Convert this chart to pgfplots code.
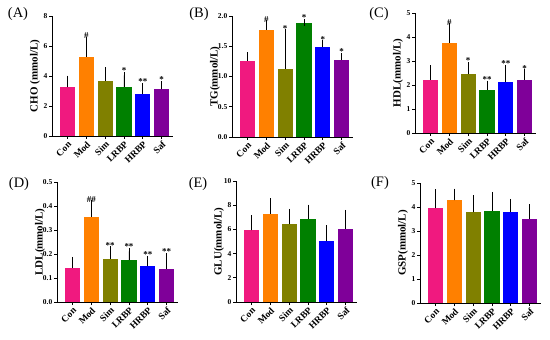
\documentclass[border=0pt]{standalone}
\usepackage{pgfplots}
\pgfplotsset{compat=1.18}
\usepackage{fontspec}
\setmainfont{Liberation Serif}
\definecolor{cCon}{HTML}{F0197F}
\definecolor{cMod}{HTML}{FF8000}
\definecolor{cSim}{HTML}{808000}
\definecolor{cLR}{HTML}{008000}
\definecolor{cHR}{HTML}{0000FF}
\definecolor{cSaf}{HTML}{7F0099}
\pgfplotsset{
  panel/.style={
    scale only axis, width=121bp, height=120bp,
    anchor=south west,
    xmin=-0.82, xmax=5.6, ymin=0,
    axis lines*=left, axis line style={line width=0.9bp, -},
    tick style={line width=0.8bp, black},
    tick align=outside, major tick length=3bp,
    xtick={0,...,5}, xticklabels={Con,Mod,Sim,LRBP,HRBP,Saf},
    xticklabel style={rotate=45, anchor=north east, font=\bfseries\fontsize{9.5}{9.5}\selectfont, inner sep=1pt},
    yticklabel style={font=\bfseries\fontsize{7.5}{7.5}\selectfont, inner sep=1.5pt},
    /pgf/number format/assume math mode=true,
    every axis y label/.style={at={(axis description cs:0,0.5)}, rotate=90, anchor=center, yshift=17bp, font=\bfseries\fontsize{11}{11}\selectfont},
    clip=false,
  },
  bb/.style={ybar, bar shift=0pt, bar width=0.8, draw=none,
    error bars/y dir=plus, error bars/y explicit,
    error bars/error bar style={line width=0.8bp, black},
    error bars/error mark options={mark size=3.5bp, line width=0.8bp, black}},
  ann/.style={draw=none, mark=none, nodes near coords, point meta=explicit symbolic,
    nodes near coords style={font=\bfseries\fontsize{9}{9}\selectfont, anchor=south, inner sep=1pt, yshift=0.5bp}},
}
\begin{document}
\begin{tikzpicture}
\useasboundingbox (0bp,0bp) rectangle (550bp,340bp);
% (A) CHO
\begin{axis}[panel, at={(52bp,204bp)}, ymax=8, ytick={0,2,...,8}, ylabel={CHO (mmol/L)}]
\addplot[bb, fill=cCon] coordinates {(0,3.24) +- (0,0.55)};
\addplot[bb, fill=cMod] coordinates {(1,5.28) +- (0,1.11)};
\addplot[bb, fill=cSim] coordinates {(2,3.68) +- (0,0.67)};
\addplot[bb, fill=cLR] coordinates {(3,3.28) +- (0,0.76)};
\addplot[bb, fill=cHR] coordinates {(4,2.79) +- (0,0.51)};
\addplot[bb, fill=cSaf] coordinates {(5,3.10) +- (0,0.34)};
\addplot[ann] coordinates {(1,6.39)[\#] (3,4.04)[*] (4,3.30)[**] (5,3.44)[*]};
\end{axis}
% (B) TG
\begin{axis}[panel, at={(232bp,203bp)}, height=121bp, ymax=2, ytick={0,0.5,...,2},
  yticklabel style={/pgf/number format/.cd, fixed, fixed zerofill, precision=1}, ylabel={TG(mmol/L)}]
\addplot[bb, fill=cCon] coordinates {(0,1.26) +- (0,0.08)};
\addplot[bb, fill=cMod] coordinates {(1,1.77) +- (0,0.10)};
\addplot[bb, fill=cSim] coordinates {(2,1.13) +- (0,0.59)};
\addplot[bb, fill=cLR] coordinates {(3,1.88) +- (0,0.01)};
\addplot[bb, fill=cHR] coordinates {(4,1.48) +- (0,0.06)};
\addplot[bb, fill=cSaf] coordinates {(5,1.28) +- (0,0.05)};
\addplot[ann] coordinates {(1,1.87)[\#] (2,1.72)[*] (3,1.89)[*] (4,1.54)[*] (5,1.33)[*]};
\end{axis}
% (C) HDL
\begin{axis}[panel, at={(415bp,207bp)}, ymax=5, ytick={0,...,5}, ylabel={HDL(mmol/L)}]
\addplot[bb, fill=cCon] coordinates {(0,2.22) +- (0,0.45)};
\addplot[bb, fill=cMod] coordinates {(1,3.75) +- (0,0.67)};
\addplot[bb, fill=cSim] coordinates {(2,2.44) +- (0,0.37)};
\addplot[bb, fill=cLR] coordinates {(3,1.81) +- (0,0.23)};
\addplot[bb, fill=cHR] coordinates {(4,2.11) +- (0,0.58)};
\addplot[bb, fill=cSaf] coordinates {(5,2.22) +- (0,0.29)};
\addplot[ann] coordinates {(1,4.42)[\#] (2,2.81)[*] (3,2.04)[**] (4,2.69)[**] (5,2.51)[*]};
\end{axis}
% (D) LDL
\begin{axis}[panel, at={(57bp,38bp)}, ymax=0.5, ytick={0,0.1,...,0.5},
  yticklabel style={/pgf/number format/.cd, fixed, fixed zerofill, precision=1}, ylabel={LDL(mmol/L)}]
\addplot[bb, fill=cCon] coordinates {(0,0.141) +- (0,0.032)};
\addplot[bb, fill=cMod] coordinates {(1,0.355) +- (0,0.054)};
\addplot[bb, fill=cSim] coordinates {(2,0.180) +- (0,0.037)};
\addplot[bb, fill=cLR] coordinates {(3,0.175) +- (0,0.036)};
\addplot[bb, fill=cHR] coordinates {(4,0.148) +- (0,0.030)};
\addplot[bb, fill=cSaf] coordinates {(5,0.138) +- (0,0.051)};
\addplot[ann] coordinates {(1,0.409)[\#\#] (2,0.217)[**] (3,0.211)[**] (4,0.178)[**] (5,0.189)[**]};
\end{axis}
% (E) GLU
\begin{axis}[panel, at={(236bp,38bp)}, height=121bp, ymax=10, ytick={0,2,...,10}, ylabel={GLU(mmol/L)}]
\addplot[bb, fill=cCon] coordinates {(0,5.91) +- (0,0.97)};
\addplot[bb, fill=cMod] coordinates {(1,7.29) +- (0,1.00)};
\addplot[bb, fill=cSim] coordinates {(2,6.41) +- (0,0.99)};
\addplot[bb, fill=cLR] coordinates {(3,6.88) +- (0,0.88)};
\addplot[bb, fill=cHR] coordinates {(4,5.00) +- (0,1.05)};
\addplot[bb, fill=cSaf] coordinates {(5,6.05) +- (0,1.27)};
\end{axis}
% (F) GSP
\begin{axis}[panel, at={(420bp,37bp)}, ymax=5, ytick={0,...,5}, ylabel={GSP(mmol/L)}]
\addplot[bb, fill=cCon] coordinates {(0,3.94) +- (0,0.66)};
\addplot[bb, fill=cMod] coordinates {(1,4.28) +- (0,0.34)};
\addplot[bb, fill=cSim] coordinates {(2,3.78) +- (0,0.57)};
\addplot[bb, fill=cLR] coordinates {(3,3.84) +- (0,0.64)};
\addplot[bb, fill=cHR] coordinates {(4,3.81) +- (0,0.38)};
\addplot[bb, fill=cSaf] coordinates {(5,3.52) +- (0,0.44)};
\end{axis}
% panel labels
\node[font=\fontsize{14.5}{14.5}\selectfont] at (18bp,326bp) {(A)};
\node[font=\fontsize{14.5}{14.5}\selectfont] at (199bp,326bp) {(B)};
\node[font=\fontsize{14.5}{14.5}\selectfont] at (379bp,326bp) {(C)};
\node[font=\fontsize{14.5}{14.5}\selectfont] at (19bp,156bp) {(D)};
\node[font=\fontsize{14.5}{14.5}\selectfont] at (198bp,156bp) {(E)};
\node[font=\fontsize{14.5}{14.5}\selectfont] at (380bp,157bp) {(F)};
\end{tikzpicture}
\end{document}
